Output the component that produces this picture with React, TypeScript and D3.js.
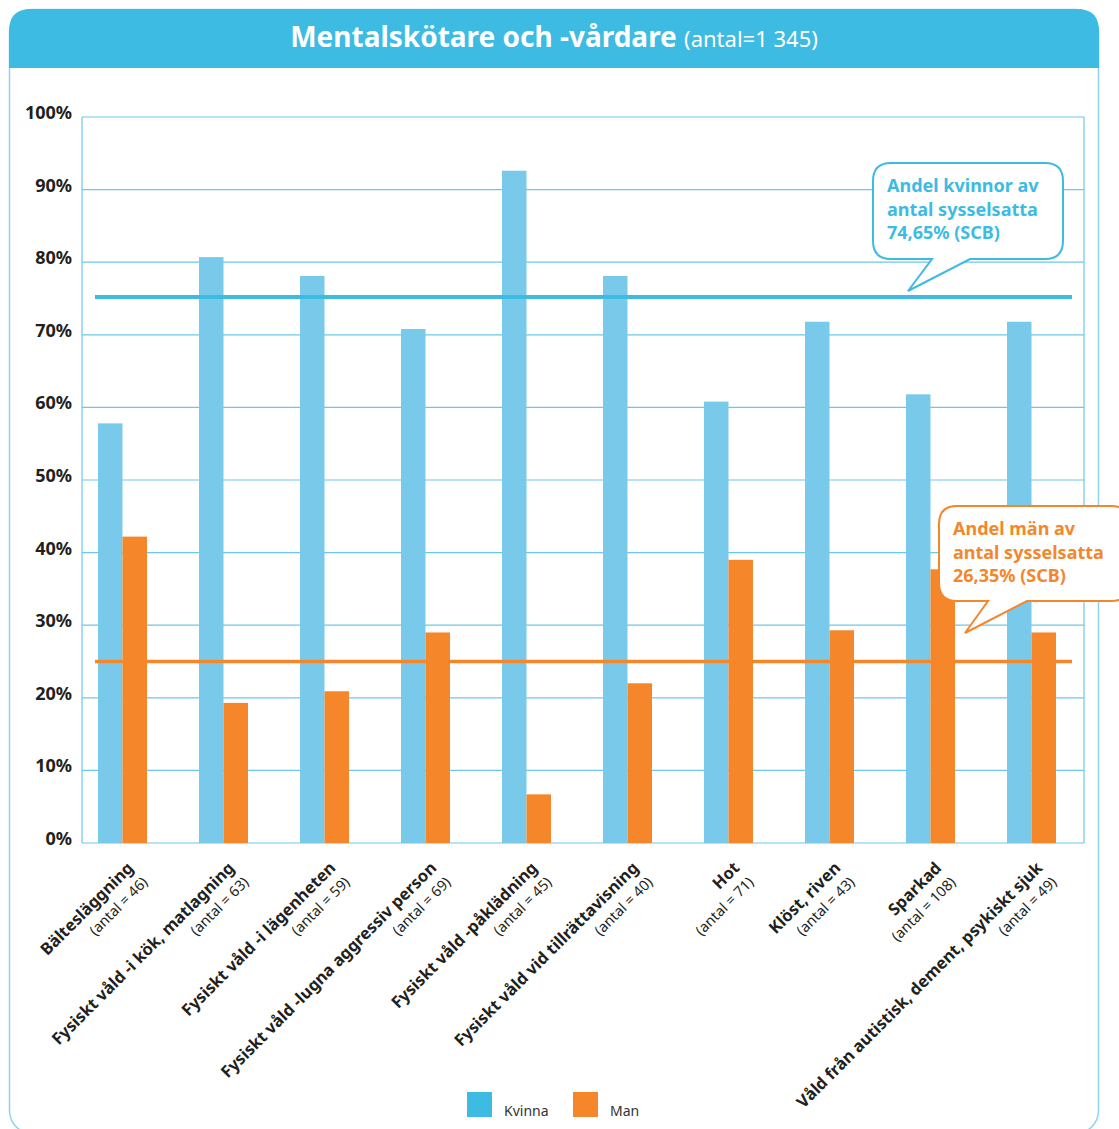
import { useEffect, useRef } from "react";
import * as d3 from "d3";

const categories = [
  "Bältesläggning",
  "Fysiskt våld -i kök, matlagning",
  "Fysiskt våld -i lägenheten",
  "Fysiskt våld -lugna aggressiv person",
  "Fysiskt våld -påklädning",
  "Fysiskt våld vid tillrättavisning",
  "Hot",
  "Klöst, riven",
  "Sparkad",
  "Våld från autistisk, dement, psykiskt sjuk",
];
const antal = [46, 63, 59, 69, 45, 40, 71, 43, 108, 49];
const kvinna = [57.8, 80.7, 78.1, 70.8, 92.6, 78.1, 60.8, 71.8, 61.8, 71.8];
const man = [42.2, 19.3, 20.9, 29.0, 6.7, 22.0, 39.0, 29.3, 37.7, 29.0];
const yTicks = [0, 10, 20, 30, 40, 50, 60, 70, 80, 90, 100];
const refKvinna = 75.2;
const refMan = 25.0;
const calloutKvinna = ["Andel kvinnor av", "antal sysselsatta", "74,65% (SCB)"];
const calloutMan = ["Andel män av", "antal sysselsatta", "26,35% (SCB)"];
const seriesNames = ["Kvinna", "Man"];

const W = 1119;
const H = 1129;
const FONT = "'Noto Sans', 'Open Sans', sans-serif";
const BLUE = "#3dbbe3";
const BAR_BLUE = "#79c9ea";
const ORANGE = "#f5862a";
const GRID = "#6cc8ea";

export default function App() {
  const svgRef = useRef<SVGSVGElement | null>(null);

  useEffect(() => {
    if (!svgRef.current) return;
    const svg = d3.select(svgRef.current);
    svg.selectAll("*").remove();

    const plot = { left: 82, right: 1084, top: 117, bottom: 843 };

    // ram + rubrikfält
    svg
      .append("rect")
      .attr("x", 9.5)
      .attr("y", 9.5)
      .attr("width", 1089)
      .attr("height", 1124)
      .attr("rx", 23)
      .attr("fill", "white")
      .attr("stroke", "#8fd3ef")
      .attr("stroke-width", 1.5);

    const hx = 9, hy = 9, hw = 1090, hh = 59, r = 22;
    svg
      .append("path")
      .attr(
        "d",
        `M${hx},${hy + hh} V${hy + r} Q${hx},${hy} ${hx + r},${hy} H${hx + hw - r} Q${hx + hw},${hy} ${hx + hw},${hy + r} V${hy + hh} Z`
      )
      .attr("fill", BLUE);

    const title = svg
      .append("text")
      .attr("x", 554)
      .attr("y", 47)
      .attr("text-anchor", "middle")
      .attr("fill", "white")
      .attr("font-family", FONT);
    title
      .append("tspan")
      .attr("font-size", 28)
      .attr("font-weight", "bold")
      .text("Mentalskötare och -vårdare ");
    title.append("tspan").attr("font-size", 22).text("(antal=1 345)");

    // skalor
    const y = d3.scaleLinear().domain([0, 100]).range([plot.bottom, plot.top]);
    const x = d3.scaleBand<string>().domain(categories).range([72, 1082]).padding(0);
    const barW = 24.5;

    // rutnät
    svg
      .append("g")
      .selectAll("line")
      .data(yTicks)
      .enter()
      .append("line")
      .attr("x1", plot.left)
      .attr("x2", plot.right)
      .attr("y1", (d) => y(d))
      .attr("y2", (d) => y(d))
      .attr("stroke", GRID)
      .attr("stroke-width", 1.2);
    [plot.left, plot.right].forEach((px) =>
      svg
        .append("line")
        .attr("x1", px)
        .attr("x2", px)
        .attr("y1", plot.top)
        .attr("y2", plot.bottom)
        .attr("stroke", GRID)
        .attr("stroke-width", 1.2)
    );

    // y-etiketter
    svg
      .append("g")
      .selectAll("text")
      .data(yTicks)
      .enter()
      .append("text")
      .attr("x", 72)
      .attr("y", (d) => y(d) + 2)
      .attr("text-anchor", "end")
      .attr("font-family", FONT)
      .attr("font-weight", "bold")
      .attr("font-size", 18)
      .attr("fill", "#231f20")
      .text((d) => `${d}%`);

    // staplar
    const bars = svg.append("g");
    bars
      .selectAll("rect.k")
      .data(kvinna)
      .enter()
      .append("rect")
      .attr("class", "k")
      .attr("x", (_, i) => (x(categories[i]) as number) + x.bandwidth() / 2 - barW)
      .attr("y", (d) => y(d))
      .attr("width", barW)
      .attr("height", (d) => y(0) - y(d))
      .attr("fill", BAR_BLUE);
    bars
      .selectAll("rect.m")
      .data(man)
      .enter()
      .append("rect")
      .attr("class", "m")
      .attr("x", (_, i) => (x(categories[i]) as number) + x.bandwidth() / 2)
      .attr("y", (d) => y(d))
      .attr("width", barW)
      .attr("height", (d) => y(0) - y(d))
      .attr("fill", ORANGE);

    // referenslinjer
    svg
      .append("line")
      .attr("x1", 95)
      .attr("x2", 1072)
      .attr("y1", y(refKvinna))
      .attr("y2", y(refKvinna))
      .attr("stroke", BLUE)
      .attr("stroke-width", 4);
    svg
      .append("line")
      .attr("x1", 95)
      .attr("x2", 1072)
      .attr("y1", y(refMan))
      .attr("y2", y(refMan))
      .attr("stroke", ORANGE)
      .attr("stroke-width", 3.5);

    // pratbubblor
    const callout = (
      bx: number,
      by: number,
      bw: number,
      bh: number,
      tail: [number, number, number, number],
      color: string,
      lines: string[]
    ) => {
      const rr = 18;
      const [t1, tx, ty, t2] = tail;
      const b = by + bh;
      const d = `M${bx + rr},${by} H${bx + bw - rr} Q${bx + bw},${by} ${bx + bw},${by + rr} V${b - rr} Q${bx + bw},${b} ${bx + bw - rr},${b} H${t2} L${tx},${ty} L${t1},${b} H${bx + rr} Q${bx},${b} ${bx},${b - rr} V${by + rr} Q${bx},${by} ${bx + rr},${by} Z`;
      svg
        .append("path")
        .attr("d", d)
        .attr("fill", "white")
        .attr("stroke", color)
        .attr("stroke-width", 2);
      svg
        .append("g")
        .selectAll("text")
        .data(lines)
        .enter()
        .append("text")
        .attr("x", bx + 14)
        .attr("y", (_, i) => by + 29 + i * 23.5)
        .attr("font-family", FONT)
        .attr("font-weight", "bold")
        .attr("font-size", 18)
        .attr("fill", color)
        .text((t) => t);
    };
    callout(873, 163, 190, 96, [932, 908, 291, 970], BLUE, calloutKvinna);
    callout(939, 506, 190, 95, [988, 965, 633, 1027], ORANGE, calloutMan);

    // x-etiketter
    const xl = svg.append("g");
    categories.forEach((c, i) => {
      const cx = (x(c) as number) + x.bandwidth() / 2;
      const g = xl.append("g").attr("transform", `translate(${cx + 12},${869}) rotate(-45)`);
      g.append("text")
        .attr("text-anchor", "end")
        .attr("font-family", FONT)
        .attr("font-weight", "bold")
        .attr("font-size", 16.5)
        .attr("fill", "#231f20")
        .text(c);
      g.append("text")
        .attr("text-anchor", "end")
        .attr("x", 0)
        .attr("y", 20)
        .attr("font-family", FONT)
        .attr("font-size", 14.5)
        .attr("fill", "#231f20")
        .text(`(antal = ${antal[i]})`);
    });

    // teckenförklaring
    const legend = svg.append("g");
    const lx = [467, 573];
    seriesNames.forEach((s, i) => {
      legend
        .append("rect")
        .attr("x", lx[i])
        .attr("y", 1092)
        .attr("width", 25)
        .attr("height", 25)
        .attr("fill", i === 0 ? BLUE : ORANGE);
      legend
        .append("text")
        .attr("x", lx[i] + 37)
        .attr("y", 1116)
        .attr("font-family", FONT)
        .attr("font-size", 14)
        .attr("fill", "#333")
        .text(s);
    });
  }, []);

  return (
    <svg
      ref={svgRef}
      width={W}
      height={H}
      style={{ position: "absolute", left: 0, top: 0 }}
    />
  );
}
